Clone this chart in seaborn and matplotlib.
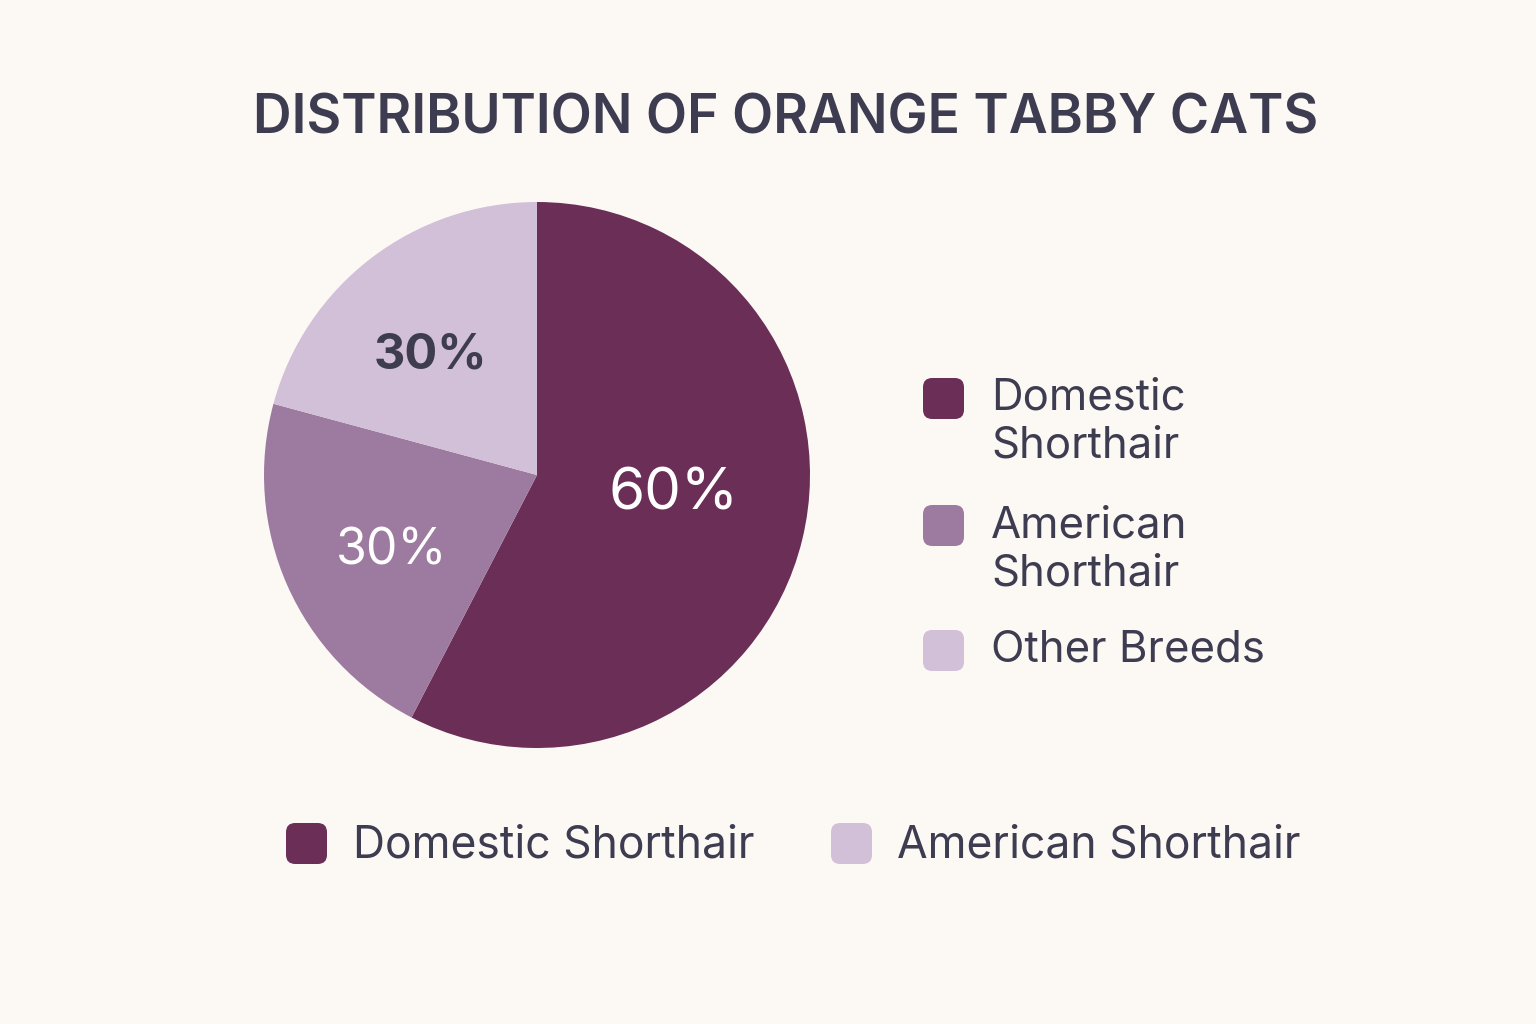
import numpy as np
import seaborn as sns
import matplotlib.pyplot as plt
from matplotlib.patches import FancyBboxPatch

# data
breeds = ["Domestic Shorthair", "American Shorthair", "Other Breeds"]
shares = [57.6, 21.6, 20.8]          # slice sizes as drawn
slice_labels = ["60%", "30%", "30%"]  # labels as printed
bottom_legend = ["Domestic Shorthair", "American Shorthair"]

colors = ["#6A2E57", "#9D7A9F", "#D2BFD8"]
bg = "#FCF9F5"
ink = "#3E3C50"

sns.set_theme(style="white")
plt.rcParams["font.family"] = ["Inter", "DejaVu Sans"]

W, H = 1536, 1024
fig = plt.figure(figsize=(W / 100, H / 100), dpi=100, facecolor=bg)

# pie axes: centre (537, 475) px, radius 273 px
cx, cy, r = 537, 475, 273
ax = fig.add_axes([(cx - r) / W, (H - cy - r) / H, 2 * r / W, 2 * r / H])
ax.set_facecolor(bg)
wedges, _ = ax.pie(shares, colors=colors, startangle=90, counterclock=False,
                   wedgeprops=dict(linewidth=0))
ax.set_xlim(-1, 1)
ax.set_ylim(-1, 1)
ax.set_aspect("equal")
ax.axis("off")

label_style = [
    dict(dist=0.50, dx=0.015, dy=0.048, color="white", size=42, weight="normal"),
    dict(dist=0.60, dx=0.015, dy=-0.037, color="white", size=36, weight="normal"),
    dict(dist=0.60, dx=-0.026, dy=-0.037, color=ink, size=35, weight="bold"),
]
for w, lab, st in zip(wedges, slice_labels, label_style):
    ang = np.deg2rad((w.theta1 + w.theta2) / 2)
    ax.text(st["dist"] * np.cos(ang) + st["dx"], st["dist"] * np.sin(ang) + st["dy"], lab,
            ha="center", va="center", color=st["color"],
            fontsize=st["size"], fontweight=st["weight"])

fig.text(786 / W, 1 - 134 / H, "DISTRIBUTION OF ORANGE TABBY CATS",
         ha="center", va="baseline", fontsize=38.5, fontweight="semibold", color=ink)


def swatch(x, y, color, size=41):
    # x, y = top-left corner in pixels
    p = FancyBboxPatch((x / W, 1 - (y + size) / H), size / W, size / H,
                       boxstyle="round,pad=0,rounding_size=0.006",
                       transform=fig.transFigure, facecolor=color,
                       edgecolor="none", mutation_aspect=W / H)
    fig.patches.append(p)


# right legend
right_rows = [(378, ["Domestic", "Shorthair"]),
              (505, ["American", "Shorthair"]),
              (630, ["Other Breeds"])]
for (y, lines), c in zip(right_rows, colors):
    swatch(923, y, c)
    for i, line in enumerate(lines):
        fig.text(991 / W, 1 - (y + 32 + 48 * i) / H, line, ha="left", va="baseline",
                 fontsize=31.5, color=ink)

# bottom legend
bottom_items = [(286, 353), (831, 897)]
bottom_colors = [colors[0], colors[2]]
for (sx, tx), lab, c in zip(bottom_items, bottom_legend, bottom_colors):
    swatch(sx, 823, c)
    fig.text(tx / W, 1 - 858 / H, lab, ha="left", va="baseline",
             fontsize=32, color=ink)

fig.savefig("out.png", dpi=100, facecolor=bg)
